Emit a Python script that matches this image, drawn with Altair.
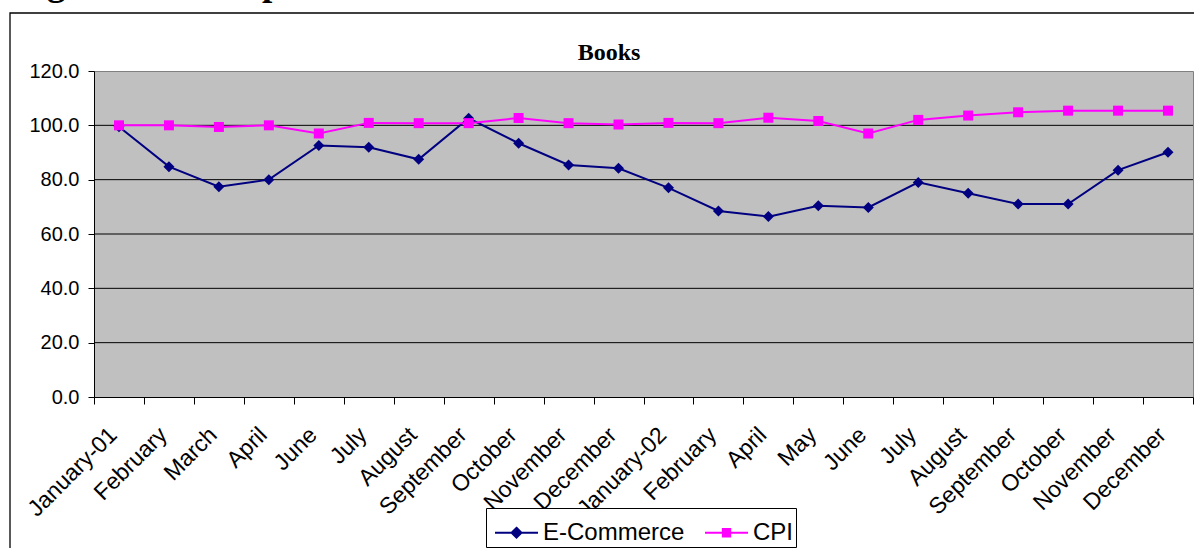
import json

import altair as alt
import pandas as pd

# ---- chart data -------------------------------------------------------------
months = [
    "January-01", "February", "March", "April", "June", "July", "August",
    "September", "October", "November", "December", "January-02", "February",
    "April", "May", "June", "July", "August", "September", "October",
    "November", "December",
]
ecommerce = [
    99.5, 84.8, 77.4, 80.0, 92.6, 91.9, 87.5, 102.6, 93.4, 85.4, 84.2,
    77.0, 68.5, 66.4, 70.4, 69.8, 79.0, 75.0, 71.0, 71.0, 83.5, 90.1,
]
cpi = [
    100.0, 100.0, 99.4, 100.0, 97.0, 100.9, 100.8, 100.8, 102.7, 100.8, 100.3,
    100.9, 100.8, 102.8, 101.6, 97.0, 102.0, 103.6, 104.8, 105.4, 105.4, 105.4,
]
series_names = ["E-Commerce", "CPI"]
series_colors = ["#000080", "#FF00FF"]
y_ticks = [0, 20, 40, 60, 80, 100, 120]
grid_levels = [20, 40, 60, 80, 100]
chart_title = "Books"
heading = "Figure 14: Comparison"

# ---- long table -------------------------------------------------------------
rows = []
for i, m in enumerate(months):
    rows.append({"idx": i, "month": m, "series": series_names[0], "value": ecommerce[i]})
    rows.append({"idx": i, "month": m, "series": series_names[1], "value": cpi[i]})
df = pd.DataFrame(rows)

n = len(months)
x_scale = alt.Scale(domain=[-0.5, n - 0.5], nice=False, zero=False)
y_scale = alt.Scale(domain=[0, 120], nice=False, zero=False)

AXIS_FONT = "Liberation Sans"

y_axis = alt.Axis(
    values=y_ticks, format=".1f", title=None, grid=False,
    domain=True, domainColor="black", domainWidth=1,
    ticks=True, tickSize=6, tickColor="black", tickWidth=1,
    labelFont=AXIS_FONT, labelFontSize=20, labelColor="black", labelPadding=9,
)

# tick marks sit on the category boundaries
tick_axis = alt.Axis(
    orient="bottom", values=[i - 0.5 for i in range(n + 1)], labels=False,
    ticks=True, tickSize=7, tickColor="black", tickWidth=1,
    domain=True, domainColor="black", domainWidth=1, grid=False, title=None,
)

# month names sit in the middle of each category, rotated
label_axis = alt.Axis(
    orient="bottom", values=list(range(n)),
    labelExpr=json.dumps(months) + "[datum.value]",
    labelAngle=315, labelAlign="right", labelBaseline="middle",
    labelFont=AXIS_FONT, labelFontSize=23, labelColor="black",
    labelPadding=34, labelOffset=-6,
    labelOverlap=False, labelFlush=False, labelBound=False,
    ticks=False, tickSize=0, domain=False, grid=False, title=None,
)


def y_enc():
    return alt.Y("value:Q", scale=y_scale, axis=y_axis)


base = alt.Chart(df)
ec = base.transform_filter(alt.datum.series == series_names[0])
cp = base.transform_filter(alt.datum.series == series_names[1])

# outer chart frame
frame = alt.Chart(pd.DataFrame({"k": [0]})).mark_rect(
    fill="white", fillOpacity=0, stroke="black", strokeWidth=1.3
).encode(x=alt.value(-84), x2=alt.value(1300), y=alt.value(-58), y2=alt.value(700))

grid = alt.Chart(pd.DataFrame({"value": grid_levels})).mark_rule(
    color="black", strokeWidth=1
).encode(y=y_enc())

line_ec = ec.mark_line(color=series_colors[0], strokeWidth=2).encode(
    x=alt.X("idx:Q", scale=x_scale, axis=tick_axis), y=y_enc()
)
pts_ec = ec.mark_point(
    shape="diamond", filled=True, color=series_colors[0], size=121, opacity=1
).encode(x=alt.X("idx:Q", scale=x_scale, axis=label_axis), y=y_enc())

line_cpi = cp.mark_line(color=series_colors[1], strokeWidth=2).encode(
    x=alt.X("idx:Q", scale=x_scale, axis=None), y=y_enc()
)
pts_cpi = cp.mark_point(
    shape="square", filled=True, color=series_colors[1], size=100, opacity=1
).encode(x=alt.X("idx:Q", scale=x_scale, axis=None), y=y_enc())

# legend symbols: a short line with the series marker on it
legend_shapes = [
    "M-1,0L1,0M0,-0.23L0.23,0L0,0.23L-0.23,0Z",
    "M-1,0L1,0M-0.17,-0.17L0.17,-0.17L0.17,0.17L-0.17,0.17Z",
]
legend_carrier = base.mark_point(filled=True, opacity=0).encode(
    x=alt.X("idx:Q", scale=x_scale, axis=None),
    y=y_enc(),
    color=alt.Color("series:N", scale=alt.Scale(domain=series_names, range=series_colors),
                    legend=alt.Legend(title=None)),
    stroke=alt.Stroke("series:N", scale=alt.Scale(domain=series_names, range=series_colors),
                      legend=alt.Legend(title=None)),
    shape=alt.Shape("series:N", scale=alt.Scale(domain=series_names, range=legend_shapes),
                    legend=alt.Legend(title=None)),
)

title_text = alt.Chart(pd.DataFrame({"t": [chart_title]})).mark_text(
    font="Liberation Serif", fontWeight="bold", fontSize=24, align="center",
    baseline="alphabetic", color="black"
).encode(text="t:N", x=alt.value(515), y=alt.value(-11))

# page heading above the chart box (runs off the top edge)
heading_text = alt.Chart(pd.DataFrame({"t": [heading]})).mark_text(
    font="Liberation Serif", fontWeight="bold", fontSize=37, align="left",
    baseline="alphabetic", color="black"
).encode(text="t:N", x=alt.value(-80), y=alt.value(-76.5))

chart = (
    alt.layer(
        frame, grid, line_ec, pts_ec, line_cpi, pts_cpi, legend_carrier,
        title_text, heading_text,
    )
    .resolve_axis(x="independent")
    .properties(
        width=1099, height=326,
        autosize=alt.AutoSizeParams(type="none"),
        padding={"left": 94, "top": 71, "right": 1, "bottom": 151},
        background="white",
    )
    .configure_view(fill="#C0C0C0", stroke="#808080", strokeWidth=1)
    .configure_legend(
        orient="none", legendX=392, legendY=437, direction="horizontal",
        padding=2, strokeColor="black", fillColor="white", cornerRadius=0,
        symbolSize=1849, symbolStrokeWidth=2, symbolOpacity=1, symbolOffset=6,
        labelFont=AXIS_FONT, labelFontSize=24, labelColor="black",
        labelOffset=4, labelLimit=400, columnPadding=13,
    )
)

chart.save("out.html", embed_options={"renderer": "svg", "actions": False})
